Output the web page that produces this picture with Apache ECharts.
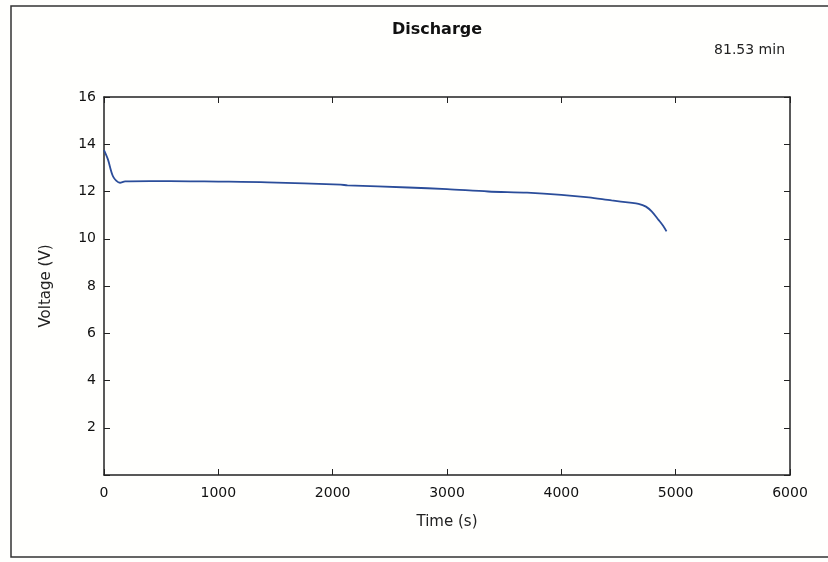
<!DOCTYPE html>
<html>
<head>
<meta charset="utf-8">
<script src="https://cdn.jsdelivr.net/npm/echarts@6/dist/echarts.min.js"></script>
<style>
  html, body { margin: 0; padding: 0; background: #fffffd; }
  #chart { width: 828px; height: 562px; }
</style>
</head>
<body>
<div id="chart"></div>
<script>
// discharge curve
const timeS = [0, 35, 80, 140, 185, 400, 755, 1000, 1430, 2070, 2130, 2660, 3000, 3360, 3700, 4000, 4240, 4440, 4600, 4675, 4740, 4790, 4850, 4890, 4920];
const voltage = [13.75, 13.35, 12.63, 12.37, 12.43, 12.44, 12.43, 12.42, 12.39, 12.29, 12.26, 12.17, 12.1, 12.0, 11.95, 11.86, 11.75, 11.62, 11.53, 11.48, 11.36, 11.16, 10.8, 10.55, 10.31];
const xTicks = [0, 1000, 2000, 3000, 4000, 5000, 6000];
const yTicks = [2, 4, 6, 8, 10, 12, 14, 16];

const chart = echarts.init(document.getElementById('chart'));
const font = '"DejaVu Sans", Verdana, sans-serif';
const axisColor = '#222';

const baseX = {
  type: 'value', min: 0, max: 6000, interval: 1000,
  axisLine: { show: true, onZero: false, lineStyle: { color: axisColor, width: 1.5 } },
  axisTick: { show: true, inside: true, length: 6, lineStyle: { color: axisColor } },
  splitLine: { show: false }
};
const baseY = {
  type: 'value', min: 0, max: 16, interval: 2,
  axisLine: { show: true, onZero: false, lineStyle: { color: axisColor, width: 1.5 } },
  axisTick: { show: true, inside: true, length: 6, lineStyle: { color: axisColor } },
  splitLine: { show: false }
};

chart.setOption({
  backgroundColor: '#fffffd',
  animation: false,
  title: [
    { text: 'Discharge', left: 432, top: 17, textAlign: 'center',
      textStyle: { fontFamily: font, fontSize: 16, fontWeight: 'bold', color: '#111' } },
    { text: '81.53 min', right: 38, top: 38,
      textStyle: { fontFamily: font, fontSize: 14, fontWeight: 'normal', color: '#222' } }
  ],
  graphic: [
    { type: 'rect', shape: { x: 11, y: 6, width: 820, height: 551 },
      style: { fill: 'none', stroke: '#333', lineWidth: 1.5 }, silent: true }
  ],
  grid: { left: 104, right: 38, top: 97, bottom: 87 },
  xAxis: [
    Object.assign({}, baseX, {
      position: 'bottom',
      name: 'Time (s)', nameLocation: 'middle', nameGap: 40,
      nameTextStyle: { fontFamily: font, fontSize: 15, color: '#222' },
      axisLabel: { fontFamily: font, fontSize: 14, color: '#111', margin: 11,
        formatter: v => xTicks.includes(v) ? String(v) : '' }
    }),
    Object.assign({}, baseX, { position: 'top', axisLabel: { show: false } })
  ],
  yAxis: [
    Object.assign({}, baseY, {
      position: 'left',
      name: 'Voltage (V)', nameLocation: 'middle', nameGap: 50,
      nameTextStyle: { fontFamily: font, fontSize: 15, color: '#222' },
      axisLabel: { fontFamily: font, fontSize: 14, color: '#111', margin: 8,
        formatter: v => yTicks.includes(v) ? String(v) : '' }
    }),
    Object.assign({}, baseY, { position: 'right', axisLabel: { show: false } })
  ],
  series: [{
    type: 'line',
    data: timeS.map((t, i) => [t, voltage[i]]),
    smooth: 0.3,
    showSymbol: false,
    lineStyle: { color: '#2b4d9a', width: 1.8 }
  }]
});
</script>
</body>
</html>
